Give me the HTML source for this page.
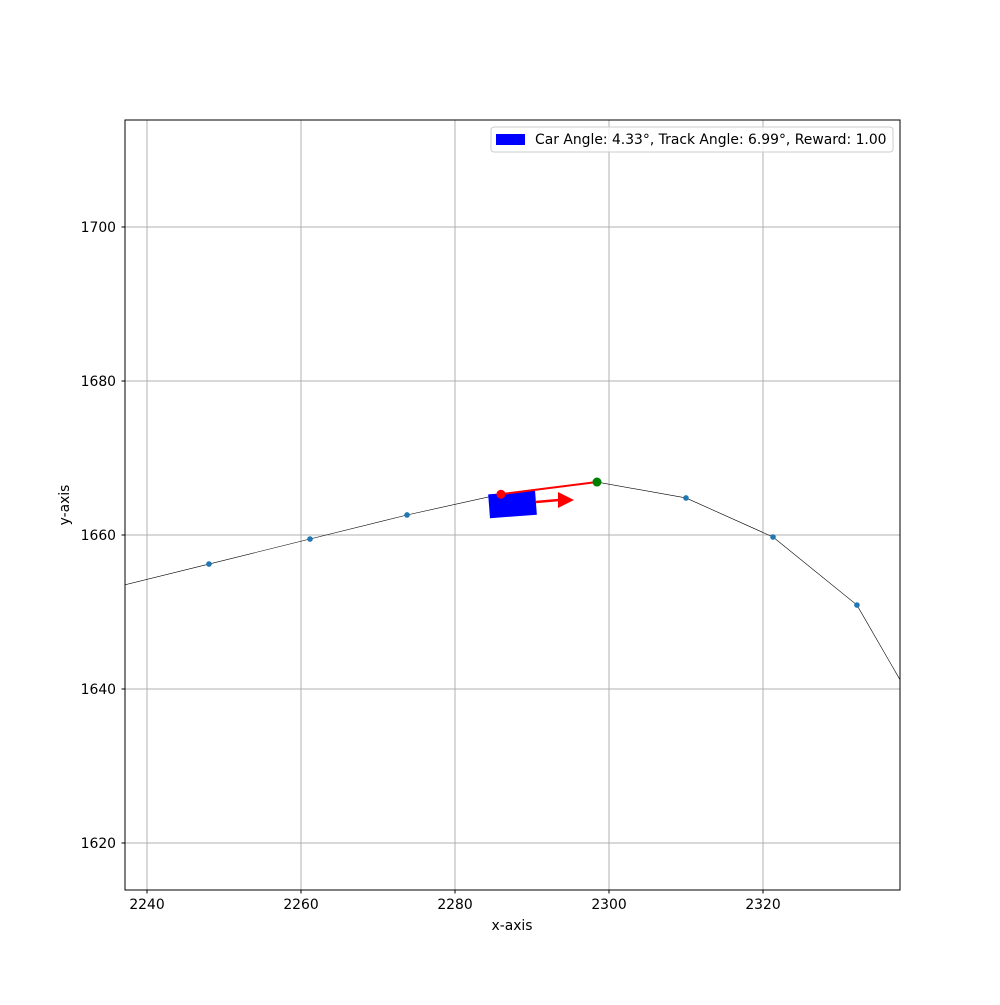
<!DOCTYPE html>
<html><head><meta charset="utf-8"><style>
body{margin:0;background:#fff}
svg text{font-family:"DejaVu Sans","Liberation Sans",sans-serif;font-size:13.9px;fill:#000}
</style></head><body>
<svg id="chart" width="1000" height="1000" xmlns="http://www.w3.org/2000/svg">
<defs><clipPath id="clip"><rect x="125" y="120" width="775" height="770"/></clipPath></defs>
<g id="grid"></g>
<g id="plot" clip-path="url(#clip)"></g>
<rect x="125" y="120" width="775" height="770" fill="none" stroke="#000" stroke-width="1"/>
<g id="ticks"></g>
<text x="512" y="930" text-anchor="middle">x-axis</text>
<text x="0" y="0" text-anchor="middle" transform="translate(69,505) rotate(-90)">y-axis</text>
<g>
<rect x="491" y="127" width="402" height="25" rx="3" fill="#fff" fill-opacity="0.8" stroke="#ccc"/>
<rect x="496" y="134" width="29" height="11" fill="#0000ff"/>
<text x="535" y="144">Car Angle: 4.33°, Track Angle: 6.99°, Reward: 1.00</text>
</g>
</svg>
<script>
const xTicks=[2240,2260,2280,2300,2320];
const yTicks=[1620,1640,1660,1680,1700];
const trackX=[2235,2248.05,2261.17,2273.77,2285.97,2298.44,2310.0,2321.3,2332.2,2342];
const trackY=[1653.0,1656.23,1659.48,1662.6,1665.3,1666.88,1664.81,1659.74,1650.9,1633.9];
const carPos=[2287.47,1663.96];
const carAngle=4.33;
const carPoint=[2285.97,1665.3];
const targetPoint=[2298.44,1666.88];
const arrowStart=[2290.52,1664.29];
const arrowEnd=[2295.45,1664.55];
const NS="http://www.w3.org/2000/svg";
function sx(v){return 147+(v-2240)*7.7;}
function sy(v){return 227-(v-1700)*7.7;}
function mk(tag,attrs,parent){const e=document.createElementNS(NS,tag);for(const k in attrs)e.setAttribute(k,attrs[k]);parent.appendChild(e);return e;}
const grid=document.getElementById('grid'),plot=document.getElementById('plot'),ticks=document.getElementById('ticks');
xTicks.forEach(t=>{const x=sx(t);
 const g=mk('line',{x1:x,x2:x,y1:120,y2:890,stroke:'#b0b0b0','stroke-width':1},grid);
 
 
 const tk=mk('line',{x1:x,x2:x,y1:890,y2:893.5,stroke:'#000'},ticks);
 
 
 const l=mk('text',{x:x,y:909,'text-anchor':'middle'},ticks);l.textContent=t;
 
 
});
yTicks.forEach(t=>{const y=sy(t);
 const g=mk('line',{x1:125,x2:900,y1:y,y2:y,stroke:'#b0b0b0','stroke-width':1},grid);
 
 
 const tk=mk('line',{x1:121.5,x2:125,y1:y,y2:y,stroke:'#000'},ticks);
 
 
 const l=mk('text',{x:116,y:y+5,'text-anchor':'end'},ticks);l.textContent=t;
 
 
});
const pts=trackX.map((v,i)=>sx(v)+','+sy(trackY[i])).join(' ');
const tl=mk('polyline',{points:pts,fill:'none',stroke:'#000','stroke-width':0.6},plot);


trackX.forEach((v,i)=>{const c=mk('circle',{cx:sx(v),cy:sy(trackY[i]),r:2.8,fill:'#1f77b4'},plot);
 
 });
const cx=sx(carPos[0]),cy=sy(carPos[1]);
const car=mk('rect',{x:cx-23.5,y:cy-12,width:47,height:24,fill:'#0000ff',transform:`rotate(${-carAngle} ${cx} ${cy})`},plot);


const rl=mk('line',{x1:sx(carPoint[0]),y1:sy(carPoint[1]),x2:sx(targetPoint[0]),y2:sy(targetPoint[1]),stroke:'#ff0000','stroke-width':2},plot);


const ax1=sx(arrowStart[0]),ay1=sy(arrowStart[1]),ax2=sx(arrowEnd[0]),ay2=sy(arrowEnd[1]);
const al=mk('line',{x1:ax1,y1:ay1,x2:ax2-15,y2:ay2,stroke:'#ff0000','stroke-width':2.5},plot);


const ah=mk('polygon',{points:`${ax2-16},${ay2-8} ${ax2},${ay2} ${ax2-16},${ay2+8}`,fill:'#ff0000'},plot);


const rp=mk('circle',{cx:sx(carPoint[0]),cy:sy(carPoint[1]),r:4.5,fill:'#ff0000'},plot);


const gp=mk('circle',{cx:sx(targetPoint[0]),cy:sy(targetPoint[1]),r:4.5,fill:'#008000'},plot);


</script>
</body></html>
